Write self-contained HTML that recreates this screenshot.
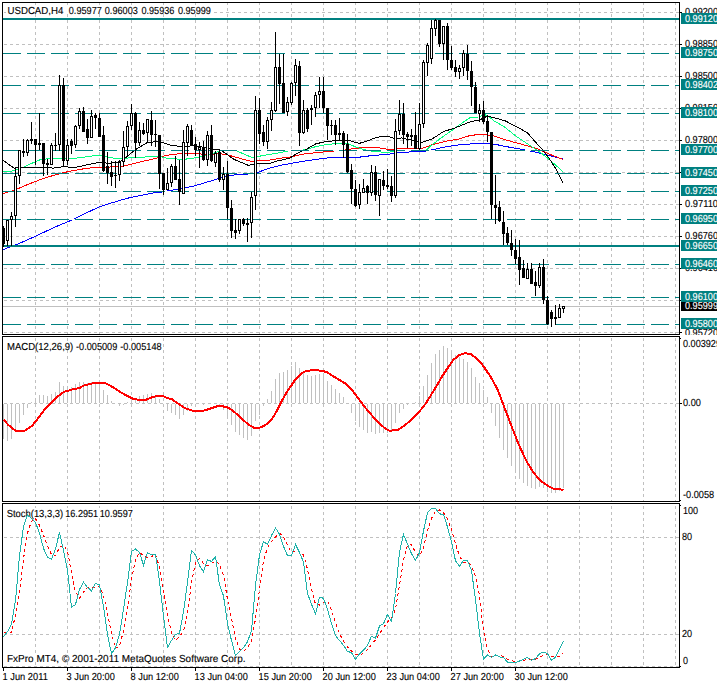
<!DOCTYPE html><html><head><meta charset="utf-8"><style>html,body{margin:0;padding:0;background:#fff}svg{display:block}</style></head><body><svg width="717" height="684" viewBox="0 0 717 684" shape-rendering="crispEdges" text-rendering="geometricPrecision" font-family="'Liberation Sans', sans-serif" font-size="10.2px">
<rect x="0" y="0" width="717" height="684" fill="#fff"/>
<line x1="35.5" y1="3" x2="35.5" y2="334" stroke="#c0c0c0" stroke-dasharray="3 3" stroke-dashoffset="1"/>
<line x1="67.5" y1="3" x2="67.5" y2="334" stroke="#c0c0c0" stroke-dasharray="3 3" stroke-dashoffset="1"/>
<line x1="99.5" y1="3" x2="99.5" y2="334" stroke="#c0c0c0" stroke-dasharray="3 3" stroke-dashoffset="1"/>
<line x1="131.5" y1="3" x2="131.5" y2="334" stroke="#c0c0c0" stroke-dasharray="3 3" stroke-dashoffset="1"/>
<line x1="163.5" y1="3" x2="163.5" y2="334" stroke="#c0c0c0" stroke-dasharray="3 3" stroke-dashoffset="1"/>
<line x1="195.5" y1="3" x2="195.5" y2="334" stroke="#c0c0c0" stroke-dasharray="3 3" stroke-dashoffset="1"/>
<line x1="227.5" y1="3" x2="227.5" y2="334" stroke="#c0c0c0" stroke-dasharray="3 3" stroke-dashoffset="1"/>
<line x1="259.5" y1="3" x2="259.5" y2="334" stroke="#c0c0c0" stroke-dasharray="3 3" stroke-dashoffset="1"/>
<line x1="291.5" y1="3" x2="291.5" y2="334" stroke="#c0c0c0" stroke-dasharray="3 3" stroke-dashoffset="1"/>
<line x1="323.5" y1="3" x2="323.5" y2="334" stroke="#c0c0c0" stroke-dasharray="3 3" stroke-dashoffset="1"/>
<line x1="355.5" y1="3" x2="355.5" y2="334" stroke="#c0c0c0" stroke-dasharray="3 3" stroke-dashoffset="1"/>
<line x1="387.5" y1="3" x2="387.5" y2="334" stroke="#c0c0c0" stroke-dasharray="3 3" stroke-dashoffset="1"/>
<line x1="419.5" y1="3" x2="419.5" y2="334" stroke="#c0c0c0" stroke-dasharray="3 3" stroke-dashoffset="1"/>
<line x1="451.5" y1="3" x2="451.5" y2="334" stroke="#c0c0c0" stroke-dasharray="3 3" stroke-dashoffset="1"/>
<line x1="483.5" y1="3" x2="483.5" y2="334" stroke="#c0c0c0" stroke-dasharray="3 3" stroke-dashoffset="1"/>
<line x1="515.5" y1="3" x2="515.5" y2="334" stroke="#c0c0c0" stroke-dasharray="3 3" stroke-dashoffset="1"/>
<line x1="547.5" y1="3" x2="547.5" y2="334" stroke="#c0c0c0" stroke-dasharray="3 3" stroke-dashoffset="1"/>
<line x1="579.5" y1="3" x2="579.5" y2="334" stroke="#c0c0c0" stroke-dasharray="3 3" stroke-dashoffset="1"/>
<line x1="611.5" y1="3" x2="611.5" y2="334" stroke="#c0c0c0" stroke-dasharray="3 3" stroke-dashoffset="1"/>
<line x1="643.5" y1="3" x2="643.5" y2="334" stroke="#c0c0c0" stroke-dasharray="3 3" stroke-dashoffset="1"/>
<line x1="675.5" y1="3" x2="675.5" y2="334" stroke="#c0c0c0" stroke-dasharray="3 3" stroke-dashoffset="1"/>
<line x1="35.5" y1="337" x2="35.5" y2="501" stroke="#c0c0c0" stroke-dasharray="3 3" stroke-dashoffset="5"/>
<line x1="67.5" y1="337" x2="67.5" y2="501" stroke="#c0c0c0" stroke-dasharray="3 3" stroke-dashoffset="5"/>
<line x1="99.5" y1="337" x2="99.5" y2="501" stroke="#c0c0c0" stroke-dasharray="3 3" stroke-dashoffset="5"/>
<line x1="131.5" y1="337" x2="131.5" y2="501" stroke="#c0c0c0" stroke-dasharray="3 3" stroke-dashoffset="5"/>
<line x1="163.5" y1="337" x2="163.5" y2="501" stroke="#c0c0c0" stroke-dasharray="3 3" stroke-dashoffset="5"/>
<line x1="195.5" y1="337" x2="195.5" y2="501" stroke="#c0c0c0" stroke-dasharray="3 3" stroke-dashoffset="5"/>
<line x1="227.5" y1="337" x2="227.5" y2="501" stroke="#c0c0c0" stroke-dasharray="3 3" stroke-dashoffset="5"/>
<line x1="259.5" y1="337" x2="259.5" y2="501" stroke="#c0c0c0" stroke-dasharray="3 3" stroke-dashoffset="5"/>
<line x1="291.5" y1="337" x2="291.5" y2="501" stroke="#c0c0c0" stroke-dasharray="3 3" stroke-dashoffset="5"/>
<line x1="323.5" y1="337" x2="323.5" y2="501" stroke="#c0c0c0" stroke-dasharray="3 3" stroke-dashoffset="5"/>
<line x1="355.5" y1="337" x2="355.5" y2="501" stroke="#c0c0c0" stroke-dasharray="3 3" stroke-dashoffset="5"/>
<line x1="387.5" y1="337" x2="387.5" y2="501" stroke="#c0c0c0" stroke-dasharray="3 3" stroke-dashoffset="5"/>
<line x1="419.5" y1="337" x2="419.5" y2="501" stroke="#c0c0c0" stroke-dasharray="3 3" stroke-dashoffset="5"/>
<line x1="451.5" y1="337" x2="451.5" y2="501" stroke="#c0c0c0" stroke-dasharray="3 3" stroke-dashoffset="5"/>
<line x1="483.5" y1="337" x2="483.5" y2="501" stroke="#c0c0c0" stroke-dasharray="3 3" stroke-dashoffset="5"/>
<line x1="515.5" y1="337" x2="515.5" y2="501" stroke="#c0c0c0" stroke-dasharray="3 3" stroke-dashoffset="5"/>
<line x1="547.5" y1="337" x2="547.5" y2="501" stroke="#c0c0c0" stroke-dasharray="3 3" stroke-dashoffset="5"/>
<line x1="579.5" y1="337" x2="579.5" y2="501" stroke="#c0c0c0" stroke-dasharray="3 3" stroke-dashoffset="5"/>
<line x1="611.5" y1="337" x2="611.5" y2="501" stroke="#c0c0c0" stroke-dasharray="3 3" stroke-dashoffset="5"/>
<line x1="643.5" y1="337" x2="643.5" y2="501" stroke="#c0c0c0" stroke-dasharray="3 3" stroke-dashoffset="5"/>
<line x1="675.5" y1="337" x2="675.5" y2="501" stroke="#c0c0c0" stroke-dasharray="3 3" stroke-dashoffset="5"/>
<line x1="35.5" y1="504" x2="35.5" y2="667" stroke="#c0c0c0" stroke-dasharray="3 3" stroke-dashoffset="4"/>
<line x1="67.5" y1="504" x2="67.5" y2="667" stroke="#c0c0c0" stroke-dasharray="3 3" stroke-dashoffset="4"/>
<line x1="99.5" y1="504" x2="99.5" y2="667" stroke="#c0c0c0" stroke-dasharray="3 3" stroke-dashoffset="4"/>
<line x1="131.5" y1="504" x2="131.5" y2="667" stroke="#c0c0c0" stroke-dasharray="3 3" stroke-dashoffset="4"/>
<line x1="163.5" y1="504" x2="163.5" y2="667" stroke="#c0c0c0" stroke-dasharray="3 3" stroke-dashoffset="4"/>
<line x1="195.5" y1="504" x2="195.5" y2="667" stroke="#c0c0c0" stroke-dasharray="3 3" stroke-dashoffset="4"/>
<line x1="227.5" y1="504" x2="227.5" y2="667" stroke="#c0c0c0" stroke-dasharray="3 3" stroke-dashoffset="4"/>
<line x1="259.5" y1="504" x2="259.5" y2="667" stroke="#c0c0c0" stroke-dasharray="3 3" stroke-dashoffset="4"/>
<line x1="291.5" y1="504" x2="291.5" y2="667" stroke="#c0c0c0" stroke-dasharray="3 3" stroke-dashoffset="4"/>
<line x1="323.5" y1="504" x2="323.5" y2="667" stroke="#c0c0c0" stroke-dasharray="3 3" stroke-dashoffset="4"/>
<line x1="355.5" y1="504" x2="355.5" y2="667" stroke="#c0c0c0" stroke-dasharray="3 3" stroke-dashoffset="4"/>
<line x1="387.5" y1="504" x2="387.5" y2="667" stroke="#c0c0c0" stroke-dasharray="3 3" stroke-dashoffset="4"/>
<line x1="419.5" y1="504" x2="419.5" y2="667" stroke="#c0c0c0" stroke-dasharray="3 3" stroke-dashoffset="4"/>
<line x1="451.5" y1="504" x2="451.5" y2="667" stroke="#c0c0c0" stroke-dasharray="3 3" stroke-dashoffset="4"/>
<line x1="483.5" y1="504" x2="483.5" y2="667" stroke="#c0c0c0" stroke-dasharray="3 3" stroke-dashoffset="4"/>
<line x1="515.5" y1="504" x2="515.5" y2="667" stroke="#c0c0c0" stroke-dasharray="3 3" stroke-dashoffset="4"/>
<line x1="547.5" y1="504" x2="547.5" y2="667" stroke="#c0c0c0" stroke-dasharray="3 3" stroke-dashoffset="4"/>
<line x1="579.5" y1="504" x2="579.5" y2="667" stroke="#c0c0c0" stroke-dasharray="3 3" stroke-dashoffset="4"/>
<line x1="611.5" y1="504" x2="611.5" y2="667" stroke="#c0c0c0" stroke-dasharray="3 3" stroke-dashoffset="4"/>
<line x1="643.5" y1="504" x2="643.5" y2="667" stroke="#c0c0c0" stroke-dasharray="3 3" stroke-dashoffset="4"/>
<line x1="675.5" y1="504" x2="675.5" y2="667" stroke="#c0c0c0" stroke-dasharray="3 3" stroke-dashoffset="4"/>
<line x1="3" y1="12.5" x2="679" y2="12.5" stroke="#c0c0c0" stroke-dasharray="3 3" stroke-dashoffset="5"/>
<line x1="3" y1="44.5" x2="679" y2="44.5" stroke="#c0c0c0" stroke-dasharray="3 3" stroke-dashoffset="5"/>
<line x1="3" y1="76.5" x2="679" y2="76.5" stroke="#c0c0c0" stroke-dasharray="3 3" stroke-dashoffset="5"/>
<line x1="3" y1="108.5" x2="679" y2="108.5" stroke="#c0c0c0" stroke-dasharray="3 3" stroke-dashoffset="5"/>
<line x1="3" y1="140.5" x2="679" y2="140.5" stroke="#c0c0c0" stroke-dasharray="3 3" stroke-dashoffset="5"/>
<line x1="3" y1="172.5" x2="679" y2="172.5" stroke="#c0c0c0" stroke-dasharray="3 3" stroke-dashoffset="5"/>
<line x1="3" y1="204.5" x2="679" y2="204.5" stroke="#c0c0c0" stroke-dasharray="3 3" stroke-dashoffset="5"/>
<line x1="3" y1="236.5" x2="679" y2="236.5" stroke="#c0c0c0" stroke-dasharray="3 3" stroke-dashoffset="5"/>
<line x1="3" y1="268.5" x2="679" y2="268.5" stroke="#c0c0c0" stroke-dasharray="3 3" stroke-dashoffset="5"/>
<line x1="3" y1="300.5" x2="679" y2="300.5" stroke="#c0c0c0" stroke-dasharray="3 3" stroke-dashoffset="5"/>
<line x1="3" y1="332.5" x2="679" y2="332.5" stroke="#c0c0c0" stroke-dasharray="3 3" stroke-dashoffset="5"/>
<line x1="3" y1="403.5" x2="679" y2="403.5" stroke="#c0c0c0" stroke-dasharray="3 3" stroke-dashoffset="5"/>
<line x1="3" y1="537.5" x2="679" y2="537.5" stroke="#c0c0c0" stroke-dasharray="3 3" stroke-dashoffset="5"/>
<line x1="3" y1="634.5" x2="679" y2="634.5" stroke="#c0c0c0" stroke-dasharray="3 3" stroke-dashoffset="5"/>
<line x1="3" y1="666.5" x2="679" y2="666.5" stroke="#c0c0c0" stroke-dasharray="3 3" stroke-dashoffset="5"/>
<rect x="6" y="5" width="207" height="9" fill="#fff"/>
<text x="7.5" y="14" fill="#000" stroke="#000" stroke-width="0.12" textLength="55.8" lengthAdjust="spacingAndGlyphs">USDCAD,H4</text>
<text x="68.8" y="14" fill="#000" stroke="#000" stroke-width="0.12" textLength="33.0" lengthAdjust="spacingAndGlyphs">0.95977</text>
<text x="104.8" y="14" fill="#000" stroke="#000" stroke-width="0.12" textLength="33.0" lengthAdjust="spacingAndGlyphs">0.96003</text>
<text x="141.4" y="14" fill="#000" stroke="#000" stroke-width="0.12" textLength="33.0" lengthAdjust="spacingAndGlyphs">0.95936</text>
<text x="177.9" y="14" fill="#000" stroke="#000" stroke-width="0.12" textLength="33.0" lengthAdjust="spacingAndGlyphs">0.95999</text>
<rect x="6" y="341" width="157" height="9" fill="#fff"/>
<text x="7" y="350" fill="#000" stroke="#000" stroke-width="0.12" textLength="66.3" lengthAdjust="spacingAndGlyphs">MACD(12,26,9)</text>
<text x="76" y="350" fill="#000" stroke="#000" stroke-width="0.12" textLength="41.3" lengthAdjust="spacingAndGlyphs">-0.005009</text>
<text x="120.3" y="350" fill="#000" stroke="#000" stroke-width="0.12" textLength="41.3" lengthAdjust="spacingAndGlyphs">-0.005148</text>
<rect x="6" y="508" width="130" height="9" fill="#fff"/>
<text x="6.7" y="517" fill="#000" stroke="#000" stroke-width="0.12" textLength="56.5" lengthAdjust="spacingAndGlyphs">Stoch(13,3,3)</text>
<text x="65.2" y="517" fill="#000" stroke="#000" stroke-width="0.12" textLength="33.0" lengthAdjust="spacingAndGlyphs">16.2951</text>
<text x="99.8" y="517" fill="#000" stroke="#000" stroke-width="0.12" textLength="33.0" lengthAdjust="spacingAndGlyphs">10.9597</text>
<rect x="6" y="654" width="240" height="8" fill="#fff"/>
<text x="7" y="662" fill="#000" stroke="#000" stroke-width="0.12" textLength="238.5" lengthAdjust="spacingAndGlyphs">FxPro MT4, © 2001-2011 MetaQuotes Software Corp.</text>
<line x1="3" y1="306.5" x2="679" y2="306.5" stroke="#c0c0c0"/>
<polyline points="2.9,249.8 8.4,247.5 16.7,244.6 34.9,236.5 55.8,226.7 69.7,220.9 83.7,214.2 97.6,207.6 110.0,203.4 123.9,199.2 130.9,197.4 151.8,193.2 161.6,192.0 169.9,190.4 179.7,189.0 194.0,186.0 206.0,182.4 219.9,178.2 233.8,175.0 247.8,174.1 258.9,172.0 268.7,168.3 282.7,164.9 290.0,163.6 302.0,161.5 315.9,159.4 329.8,157.7 343.8,157.0 360.5,157.0 371.7,155.6 386.0,154.5 398.0,152.9 411.9,151.8 425.8,151.0 434.2,149.4 446.8,146.6 462.1,144.5 473.3,143.8 482.0,143.3 494.0,144.1 507.9,146.9 521.8,149.4 535.8,152.2 549.7,155.7 563.0,158.9" fill="none" stroke="#0000ff" stroke-width="1"/>
<polyline points="2.8,193.5 14.0,190.4 27.9,184.4 41.8,179.0 55.8,174.7 69.7,171.2 83.7,168.8 97.6,167.0 110.0,167.0 123.9,166.0 137.8,162.5 151.8,159.3 165.7,155.6 174.1,154.2 186.7,153.5 193.6,153.5 206.0,154.4 219.9,153.7 226.9,154.7 240.8,158.6 252.0,161.4 257.6,160.7 268.7,160.3 282.7,157.9 292.2,156.8 302.0,154.3 315.9,152.6 336.8,150.8 346.6,149.8 355.0,148.4 366.1,147.3 377.3,147.6 388.0,149.4 391.0,149.4 404.9,148.0 416.1,148.7 423.1,148.0 432.8,144.5 446.8,141.0 459.3,138.9 470.5,135.4 481.6,134.3 494.0,135.9 507.9,140.5 521.8,144.3 535.8,148.2 549.7,154.3 563.0,159.4" fill="none" stroke="#ff0000" stroke-width="1"/>
<polyline points="2.8,171.6 14.0,170.9 23.7,167.0 34.9,161.9 41.8,159.1 62.8,158.6 76.7,158.1 97.6,155.2 104.4,155.6 108.6,157.9 123.9,158.3 137.8,157.4 158.8,156.2 168.5,158.6 182.5,159.3 192.0,158.6 197.6,157.2 206.0,155.8 219.9,150.9 236.6,150.9 252.0,157.5 261.7,155.8 275.7,153.4 287.0,151.3 291.0,150.5 301.0,150.5 306.1,149.5 315.9,146.6 327.0,144.5 341.0,143.1 348.0,143.8 355.0,146.6 363.3,149.4 371.7,151.2 388.0,152.6 392.4,151.5 402.1,150.4 411.9,150.5 425.8,150.5 430.0,146.5 439.8,138.9 449.6,132.0 459.3,125.0 470.5,117.3 478.8,117.0 484.2,114.5 487.7,115.9 494.0,120.8 505.1,127.4 514.9,135.4 527.4,143.8 535.8,149.4 542.8,154.3 549.7,159.9 556.7,166.1 563.0,171.7" fill="none" stroke="#00ff7f" stroke-width="1"/>
<polyline points="2.8,160.0 8.0,164.0 14.0,168.1 23.7,167.4 41.8,167.4 53.0,168.1 62.8,166.7 75.3,167.4 97.6,162.6 110.0,163.2 119.7,161.8 123.9,159.0 135.0,150.0 147.6,142.3 160.2,141.6 171.3,145.5 182.5,146.5 193.6,145.8 205.0,147.5 213.0,149.1 218.5,149.1 224.0,152.3 233.8,159.3 247.8,165.1 253.4,164.9 257.6,163.5 268.7,163.7 275.7,161.4 290.0,158.2 296.4,153.6 306.1,149.4 315.9,143.8 327.0,141.4 341.0,140.3 350.8,141.0 359.1,143.4 366.1,141.4 374.5,138.2 382.8,136.1 389.6,136.8 393.8,138.2 401.9,138.0 411.9,140.3 421.7,142.4 431.4,139.4 444.0,131.3 453.7,128.5 462.1,125.0 470.5,121.8 478.8,120.1 484.0,118.0 487.0,115.9 494.0,117.7 505.1,120.8 517.7,127.4 527.4,132.7 535.8,142.4 542.8,150.1 549.7,159.2 556.7,170.3 563.0,182.6" fill="none" stroke="#000" stroke-width="1"/>
<line x1="3" y1="53.5" x2="679" y2="53.5" stroke="#fff"/>
<line x1="3" y1="53.5" x2="679" y2="53.5" stroke="#008080" stroke-dasharray="18 6" stroke-dashoffset="0"/>
<line x1="3" y1="85.5" x2="679" y2="85.5" stroke="#fff"/>
<line x1="3" y1="85.5" x2="679" y2="85.5" stroke="#008080" stroke-dasharray="18 6" stroke-dashoffset="0"/>
<line x1="3" y1="113.5" x2="679" y2="113.5" stroke="#fff"/>
<line x1="3" y1="113.5" x2="679" y2="113.5" stroke="#008080" stroke-dasharray="18 6" stroke-dashoffset="0"/>
<line x1="3" y1="150.5" x2="679" y2="150.5" stroke="#fff"/>
<line x1="3" y1="150.5" x2="679" y2="150.5" stroke="#008080" stroke-dasharray="18 6" stroke-dashoffset="0"/>
<line x1="3" y1="173.5" x2="679" y2="173.5" stroke="#fff"/>
<line x1="3" y1="173.5" x2="679" y2="173.5" stroke="#008080" stroke-dasharray="18 6" stroke-dashoffset="0"/>
<line x1="3" y1="191.5" x2="679" y2="191.5" stroke="#fff"/>
<line x1="3" y1="191.5" x2="679" y2="191.5" stroke="#008080" stroke-dasharray="18 6" stroke-dashoffset="0"/>
<line x1="3" y1="219.5" x2="679" y2="219.5" stroke="#fff"/>
<line x1="3" y1="219.5" x2="679" y2="219.5" stroke="#008080" stroke-dasharray="18 6" stroke-dashoffset="0"/>
<line x1="3" y1="264.5" x2="679" y2="264.5" stroke="#fff"/>
<line x1="3" y1="264.5" x2="679" y2="264.5" stroke="#008080" stroke-dasharray="18 6" stroke-dashoffset="0"/>
<line x1="3" y1="297.5" x2="679" y2="297.5" stroke="#fff"/>
<line x1="3" y1="297.5" x2="679" y2="297.5" stroke="#008080" stroke-dasharray="18 6" stroke-dashoffset="0"/>
<line x1="3" y1="324.5" x2="679" y2="324.5" stroke="#fff"/>
<line x1="3" y1="324.5" x2="679" y2="324.5" stroke="#008080" stroke-dasharray="18 6" stroke-dashoffset="0"/>
<rect x="3" y="18" width="676" height="2" fill="#008080"/>
<rect x="3" y="245" width="676" height="2" fill="#008080"/>
<rect x="3" y="226" width="1" height="21" fill="#000"/>
<rect x="2" y="228" width="3" height="16" fill="#000"/>
<rect x="7" y="220" width="1" height="26" fill="#000"/>
<rect x="6" y="220" width="3" height="21" fill="#000"/>
<rect x="7" y="221" width="1" height="19" fill="#fff"/>
<rect x="11" y="212" width="1" height="34" fill="#000"/>
<rect x="10" y="216" width="3" height="4" fill="#000"/>
<rect x="11" y="217" width="1" height="2" fill="#fff"/>
<rect x="15" y="168" width="1" height="59" fill="#000"/>
<rect x="14" y="176" width="3" height="40" fill="#000"/>
<rect x="15" y="177" width="1" height="38" fill="#fff"/>
<rect x="19" y="150" width="1" height="34" fill="#000"/>
<rect x="18" y="150" width="3" height="26" fill="#000"/>
<rect x="19" y="151" width="1" height="24" fill="#fff"/>
<rect x="23" y="139" width="1" height="18" fill="#000"/>
<rect x="22" y="151" width="3" height="2" fill="#000"/>
<rect x="27" y="139" width="1" height="17" fill="#000"/>
<rect x="26" y="140" width="3" height="13" fill="#000"/>
<rect x="27" y="141" width="1" height="11" fill="#fff"/>
<rect x="31" y="122" width="1" height="22" fill="#000"/>
<rect x="30" y="139" width="3" height="2" fill="#000"/>
<rect x="35" y="139" width="1" height="26" fill="#000"/>
<rect x="34" y="139" width="3" height="6" fill="#000"/>
<rect x="39" y="113" width="1" height="37" fill="#000"/>
<rect x="38" y="143" width="3" height="2" fill="#000"/>
<rect x="43" y="143" width="1" height="33" fill="#000"/>
<rect x="42" y="143" width="3" height="21" fill="#000"/>
<rect x="47" y="159" width="1" height="16" fill="#000"/>
<rect x="46" y="163" width="3" height="2" fill="#000"/>
<rect x="51" y="143" width="1" height="22" fill="#000"/>
<rect x="50" y="145" width="3" height="20" fill="#000"/>
<rect x="51" y="146" width="1" height="18" fill="#fff"/>
<rect x="55" y="133" width="1" height="18" fill="#000"/>
<rect x="54" y="145" width="3" height="1" fill="#000"/>
<rect x="59" y="75" width="1" height="76" fill="#000"/>
<rect x="58" y="85" width="3" height="60" fill="#000"/>
<rect x="59" y="86" width="1" height="58" fill="#fff"/>
<rect x="63" y="78" width="1" height="89" fill="#000"/>
<rect x="62" y="85" width="3" height="76" fill="#000"/>
<rect x="67" y="139" width="1" height="26" fill="#000"/>
<rect x="66" y="145" width="3" height="16" fill="#000"/>
<rect x="67" y="146" width="1" height="14" fill="#fff"/>
<rect x="71" y="139" width="1" height="15" fill="#000"/>
<rect x="70" y="141" width="3" height="5" fill="#000"/>
<rect x="75" y="125" width="1" height="23" fill="#000"/>
<rect x="74" y="126" width="3" height="19" fill="#000"/>
<rect x="75" y="127" width="1" height="17" fill="#fff"/>
<rect x="79" y="108" width="1" height="21" fill="#000"/>
<rect x="78" y="111" width="3" height="15" fill="#000"/>
<rect x="79" y="112" width="1" height="13" fill="#fff"/>
<rect x="83" y="107" width="1" height="25" fill="#000"/>
<rect x="82" y="111" width="3" height="21" fill="#000"/>
<rect x="87" y="119" width="1" height="25" fill="#000"/>
<rect x="86" y="129" width="3" height="9" fill="#000"/>
<rect x="91" y="110" width="1" height="28" fill="#000"/>
<rect x="90" y="116" width="3" height="22" fill="#000"/>
<rect x="91" y="117" width="1" height="20" fill="#fff"/>
<rect x="95" y="113" width="1" height="16" fill="#000"/>
<rect x="94" y="115" width="3" height="3" fill="#000"/>
<rect x="99" y="113" width="1" height="24" fill="#000"/>
<rect x="98" y="118" width="3" height="19" fill="#000"/>
<rect x="103" y="126" width="1" height="46" fill="#000"/>
<rect x="102" y="135" width="3" height="36" fill="#000"/>
<rect x="107" y="152" width="1" height="32" fill="#000"/>
<rect x="106" y="166" width="3" height="7" fill="#000"/>
<rect x="111" y="161" width="1" height="25" fill="#000"/>
<rect x="110" y="172" width="3" height="5" fill="#000"/>
<rect x="115" y="161" width="1" height="27" fill="#000"/>
<rect x="114" y="175" width="3" height="1" fill="#000"/>
<rect x="119" y="160" width="1" height="21" fill="#000"/>
<rect x="118" y="162" width="3" height="13" fill="#000"/>
<rect x="119" y="163" width="1" height="11" fill="#fff"/>
<rect x="123" y="131" width="1" height="36" fill="#000"/>
<rect x="122" y="147" width="3" height="15" fill="#000"/>
<rect x="123" y="148" width="1" height="13" fill="#fff"/>
<rect x="127" y="121" width="1" height="36" fill="#000"/>
<rect x="126" y="126" width="3" height="21" fill="#000"/>
<rect x="127" y="127" width="1" height="19" fill="#fff"/>
<rect x="131" y="104" width="1" height="26" fill="#000"/>
<rect x="130" y="113" width="3" height="13" fill="#000"/>
<rect x="131" y="114" width="1" height="11" fill="#fff"/>
<rect x="135" y="112" width="1" height="46" fill="#000"/>
<rect x="134" y="113" width="3" height="30" fill="#000"/>
<rect x="139" y="122" width="1" height="24" fill="#000"/>
<rect x="138" y="130" width="3" height="13" fill="#000"/>
<rect x="139" y="131" width="1" height="11" fill="#fff"/>
<rect x="143" y="123" width="1" height="12" fill="#000"/>
<rect x="142" y="130" width="3" height="4" fill="#000"/>
<rect x="147" y="119" width="1" height="23" fill="#000"/>
<rect x="146" y="119" width="3" height="14" fill="#000"/>
<rect x="147" y="120" width="1" height="12" fill="#fff"/>
<rect x="151" y="111" width="1" height="35" fill="#000"/>
<rect x="150" y="120" width="3" height="15" fill="#000"/>
<rect x="155" y="120" width="1" height="27" fill="#000"/>
<rect x="154" y="134" width="3" height="1" fill="#000"/>
<rect x="159" y="135" width="1" height="54" fill="#000"/>
<rect x="158" y="135" width="3" height="39" fill="#000"/>
<rect x="163" y="173" width="1" height="22" fill="#000"/>
<rect x="162" y="173" width="3" height="17" fill="#000"/>
<rect x="167" y="168" width="1" height="22" fill="#000"/>
<rect x="166" y="183" width="3" height="7" fill="#000"/>
<rect x="167" y="184" width="1" height="5" fill="#fff"/>
<rect x="171" y="164" width="1" height="23" fill="#000"/>
<rect x="170" y="166" width="3" height="17" fill="#000"/>
<rect x="171" y="167" width="1" height="15" fill="#fff"/>
<rect x="175" y="156" width="1" height="24" fill="#000"/>
<rect x="174" y="166" width="3" height="14" fill="#000"/>
<rect x="179" y="160" width="1" height="45" fill="#000"/>
<rect x="178" y="179" width="3" height="13" fill="#000"/>
<rect x="183" y="130" width="1" height="64" fill="#000"/>
<rect x="182" y="142" width="3" height="52" fill="#000"/>
<rect x="183" y="143" width="1" height="50" fill="#fff"/>
<rect x="187" y="124" width="1" height="32" fill="#000"/>
<rect x="186" y="126" width="3" height="17" fill="#000"/>
<rect x="187" y="127" width="1" height="15" fill="#fff"/>
<rect x="191" y="125" width="1" height="21" fill="#000"/>
<rect x="190" y="130" width="3" height="16" fill="#000"/>
<rect x="195" y="137" width="1" height="19" fill="#000"/>
<rect x="194" y="144" width="3" height="6" fill="#000"/>
<rect x="199" y="142" width="1" height="26" fill="#000"/>
<rect x="198" y="147" width="3" height="3" fill="#000"/>
<rect x="199" y="148" width="1" height="1" fill="#fff"/>
<rect x="203" y="141" width="1" height="20" fill="#000"/>
<rect x="202" y="147" width="3" height="13" fill="#000"/>
<rect x="207" y="131" width="1" height="35" fill="#000"/>
<rect x="206" y="135" width="3" height="25" fill="#000"/>
<rect x="207" y="136" width="1" height="23" fill="#fff"/>
<rect x="211" y="125" width="1" height="37" fill="#000"/>
<rect x="210" y="135" width="3" height="26" fill="#000"/>
<rect x="215" y="151" width="1" height="16" fill="#000"/>
<rect x="214" y="153" width="3" height="10" fill="#000"/>
<rect x="215" y="154" width="1" height="8" fill="#fff"/>
<rect x="219" y="149" width="1" height="33" fill="#000"/>
<rect x="218" y="152" width="3" height="28" fill="#000"/>
<rect x="223" y="167" width="1" height="23" fill="#000"/>
<rect x="222" y="174" width="3" height="6" fill="#000"/>
<rect x="223" y="175" width="1" height="4" fill="#fff"/>
<rect x="227" y="161" width="1" height="58" fill="#000"/>
<rect x="226" y="174" width="3" height="34" fill="#000"/>
<rect x="231" y="200" width="1" height="38" fill="#000"/>
<rect x="230" y="208" width="3" height="23" fill="#000"/>
<rect x="235" y="219" width="1" height="20" fill="#000"/>
<rect x="234" y="230" width="3" height="3" fill="#000"/>
<rect x="239" y="219" width="1" height="15" fill="#000"/>
<rect x="238" y="219" width="3" height="12" fill="#000"/>
<rect x="239" y="220" width="1" height="10" fill="#fff"/>
<rect x="243" y="218" width="1" height="8" fill="#000"/>
<rect x="242" y="219" width="3" height="5" fill="#000"/>
<rect x="247" y="218" width="1" height="24" fill="#000"/>
<rect x="246" y="223" width="3" height="2" fill="#000"/>
<rect x="251" y="192" width="1" height="46" fill="#000"/>
<rect x="250" y="197" width="3" height="26" fill="#000"/>
<rect x="251" y="198" width="1" height="24" fill="#fff"/>
<rect x="255" y="96" width="1" height="114" fill="#000"/>
<rect x="254" y="110" width="3" height="86" fill="#000"/>
<rect x="255" y="111" width="1" height="84" fill="#fff"/>
<rect x="259" y="98" width="1" height="46" fill="#000"/>
<rect x="258" y="110" width="3" height="24" fill="#000"/>
<rect x="263" y="125" width="1" height="21" fill="#000"/>
<rect x="262" y="132" width="3" height="10" fill="#000"/>
<rect x="267" y="117" width="1" height="32" fill="#000"/>
<rect x="266" y="120" width="3" height="22" fill="#000"/>
<rect x="267" y="121" width="1" height="20" fill="#fff"/>
<rect x="271" y="102" width="1" height="29" fill="#000"/>
<rect x="270" y="110" width="3" height="10" fill="#000"/>
<rect x="271" y="111" width="1" height="8" fill="#fff"/>
<rect x="275" y="32" width="1" height="80" fill="#000"/>
<rect x="274" y="67" width="3" height="44" fill="#000"/>
<rect x="275" y="68" width="1" height="42" fill="#fff"/>
<rect x="279" y="54" width="1" height="50" fill="#000"/>
<rect x="278" y="67" width="3" height="17" fill="#000"/>
<rect x="283" y="54" width="1" height="59" fill="#000"/>
<rect x="282" y="83" width="3" height="30" fill="#000"/>
<rect x="287" y="97" width="1" height="19" fill="#000"/>
<rect x="286" y="102" width="3" height="10" fill="#000"/>
<rect x="287" y="103" width="1" height="8" fill="#fff"/>
<rect x="291" y="82" width="1" height="23" fill="#000"/>
<rect x="290" y="83" width="3" height="20" fill="#000"/>
<rect x="291" y="84" width="1" height="18" fill="#fff"/>
<rect x="295" y="59" width="1" height="37" fill="#000"/>
<rect x="294" y="65" width="3" height="18" fill="#000"/>
<rect x="295" y="66" width="1" height="16" fill="#fff"/>
<rect x="299" y="61" width="1" height="85" fill="#000"/>
<rect x="298" y="66" width="3" height="67" fill="#000"/>
<rect x="303" y="100" width="1" height="34" fill="#000"/>
<rect x="302" y="110" width="3" height="23" fill="#000"/>
<rect x="303" y="111" width="1" height="21" fill="#fff"/>
<rect x="307" y="108" width="1" height="24" fill="#000"/>
<rect x="306" y="110" width="3" height="19" fill="#000"/>
<rect x="311" y="105" width="1" height="20" fill="#000"/>
<rect x="310" y="108" width="3" height="2" fill="#000"/>
<rect x="315" y="92" width="1" height="25" fill="#000"/>
<rect x="314" y="95" width="3" height="13" fill="#000"/>
<rect x="315" y="96" width="1" height="11" fill="#fff"/>
<rect x="319" y="77" width="1" height="31" fill="#000"/>
<rect x="318" y="91" width="3" height="4" fill="#000"/>
<rect x="319" y="92" width="1" height="2" fill="#fff"/>
<rect x="323" y="77" width="1" height="36" fill="#000"/>
<rect x="322" y="91" width="3" height="17" fill="#000"/>
<rect x="327" y="108" width="1" height="32" fill="#000"/>
<rect x="326" y="108" width="3" height="18" fill="#000"/>
<rect x="331" y="120" width="1" height="15" fill="#000"/>
<rect x="330" y="125" width="3" height="1" fill="#000"/>
<rect x="335" y="120" width="1" height="25" fill="#000"/>
<rect x="334" y="125" width="3" height="10" fill="#000"/>
<rect x="339" y="118" width="1" height="22" fill="#000"/>
<rect x="338" y="133" width="3" height="2" fill="#000"/>
<rect x="343" y="131" width="1" height="27" fill="#000"/>
<rect x="342" y="133" width="3" height="12" fill="#000"/>
<rect x="347" y="134" width="1" height="39" fill="#000"/>
<rect x="346" y="144" width="3" height="28" fill="#000"/>
<rect x="351" y="164" width="1" height="40" fill="#000"/>
<rect x="350" y="170" width="3" height="19" fill="#000"/>
<rect x="355" y="180" width="1" height="27" fill="#000"/>
<rect x="354" y="189" width="3" height="17" fill="#000"/>
<rect x="359" y="184" width="1" height="25" fill="#000"/>
<rect x="358" y="192" width="3" height="13" fill="#000"/>
<rect x="359" y="193" width="1" height="11" fill="#fff"/>
<rect x="363" y="179" width="1" height="14" fill="#000"/>
<rect x="362" y="188" width="3" height="5" fill="#000"/>
<rect x="363" y="189" width="1" height="3" fill="#fff"/>
<rect x="367" y="185" width="1" height="19" fill="#000"/>
<rect x="366" y="186" width="3" height="7" fill="#000"/>
<rect x="371" y="165" width="1" height="31" fill="#000"/>
<rect x="370" y="172" width="3" height="21" fill="#000"/>
<rect x="371" y="173" width="1" height="19" fill="#fff"/>
<rect x="375" y="166" width="1" height="35" fill="#000"/>
<rect x="374" y="172" width="3" height="23" fill="#000"/>
<rect x="379" y="179" width="1" height="37" fill="#000"/>
<rect x="378" y="179" width="3" height="17" fill="#000"/>
<rect x="379" y="180" width="1" height="15" fill="#fff"/>
<rect x="383" y="171" width="1" height="19" fill="#000"/>
<rect x="382" y="180" width="3" height="6" fill="#000"/>
<rect x="387" y="169" width="1" height="20" fill="#000"/>
<rect x="386" y="185" width="3" height="2" fill="#000"/>
<rect x="391" y="176" width="1" height="26" fill="#000"/>
<rect x="390" y="186" width="3" height="10" fill="#000"/>
<rect x="395" y="119" width="1" height="79" fill="#000"/>
<rect x="394" y="131" width="3" height="65" fill="#000"/>
<rect x="395" y="132" width="1" height="63" fill="#fff"/>
<rect x="399" y="100" width="1" height="35" fill="#000"/>
<rect x="398" y="114" width="3" height="17" fill="#000"/>
<rect x="399" y="115" width="1" height="15" fill="#fff"/>
<rect x="403" y="103" width="1" height="41" fill="#000"/>
<rect x="402" y="114" width="3" height="21" fill="#000"/>
<rect x="407" y="132" width="1" height="16" fill="#000"/>
<rect x="406" y="134" width="3" height="3" fill="#000"/>
<rect x="411" y="129" width="1" height="17" fill="#000"/>
<rect x="410" y="135" width="3" height="2" fill="#000"/>
<rect x="415" y="112" width="1" height="37" fill="#000"/>
<rect x="414" y="135" width="3" height="14" fill="#000"/>
<rect x="419" y="103" width="1" height="47" fill="#000"/>
<rect x="418" y="124" width="3" height="25" fill="#000"/>
<rect x="419" y="125" width="1" height="23" fill="#fff"/>
<rect x="423" y="60" width="1" height="68" fill="#000"/>
<rect x="422" y="62" width="3" height="62" fill="#000"/>
<rect x="423" y="63" width="1" height="60" fill="#fff"/>
<rect x="427" y="43" width="1" height="33" fill="#000"/>
<rect x="426" y="45" width="3" height="18" fill="#000"/>
<rect x="427" y="46" width="1" height="16" fill="#fff"/>
<rect x="431" y="20" width="1" height="44" fill="#000"/>
<rect x="430" y="28" width="3" height="31" fill="#000"/>
<rect x="431" y="29" width="1" height="29" fill="#fff"/>
<rect x="435" y="19" width="1" height="17" fill="#000"/>
<rect x="434" y="20" width="3" height="9" fill="#000"/>
<rect x="435" y="21" width="1" height="7" fill="#fff"/>
<rect x="439" y="20" width="1" height="27" fill="#000"/>
<rect x="438" y="20" width="3" height="24" fill="#000"/>
<rect x="443" y="26" width="1" height="34" fill="#000"/>
<rect x="442" y="26" width="3" height="18" fill="#000"/>
<rect x="443" y="27" width="1" height="16" fill="#fff"/>
<rect x="447" y="23" width="1" height="47" fill="#000"/>
<rect x="446" y="26" width="3" height="34" fill="#000"/>
<rect x="451" y="46" width="1" height="24" fill="#000"/>
<rect x="450" y="60" width="3" height="8" fill="#000"/>
<rect x="455" y="60" width="1" height="17" fill="#000"/>
<rect x="454" y="67" width="3" height="5" fill="#000"/>
<rect x="459" y="65" width="1" height="14" fill="#000"/>
<rect x="458" y="68" width="3" height="4" fill="#000"/>
<rect x="459" y="69" width="1" height="2" fill="#fff"/>
<rect x="463" y="50" width="1" height="26" fill="#000"/>
<rect x="462" y="53" width="3" height="15" fill="#000"/>
<rect x="463" y="54" width="1" height="13" fill="#fff"/>
<rect x="467" y="45" width="1" height="35" fill="#000"/>
<rect x="466" y="54" width="3" height="17" fill="#000"/>
<rect x="471" y="61" width="1" height="45" fill="#000"/>
<rect x="470" y="71" width="3" height="16" fill="#000"/>
<rect x="475" y="82" width="1" height="31" fill="#000"/>
<rect x="474" y="87" width="3" height="26" fill="#000"/>
<rect x="479" y="104" width="1" height="18" fill="#000"/>
<rect x="478" y="110" width="3" height="4" fill="#000"/>
<rect x="479" y="111" width="1" height="2" fill="#fff"/>
<rect x="483" y="101" width="1" height="23" fill="#000"/>
<rect x="482" y="110" width="3" height="12" fill="#000"/>
<rect x="487" y="115" width="1" height="27" fill="#000"/>
<rect x="486" y="121" width="3" height="11" fill="#000"/>
<rect x="491" y="132" width="1" height="87" fill="#000"/>
<rect x="490" y="132" width="3" height="73" fill="#000"/>
<rect x="495" y="175" width="1" height="49" fill="#000"/>
<rect x="494" y="205" width="3" height="3" fill="#000"/>
<rect x="499" y="201" width="1" height="21" fill="#000"/>
<rect x="498" y="207" width="3" height="14" fill="#000"/>
<rect x="503" y="211" width="1" height="34" fill="#000"/>
<rect x="502" y="222" width="3" height="12" fill="#000"/>
<rect x="507" y="227" width="1" height="18" fill="#000"/>
<rect x="506" y="233" width="3" height="10" fill="#000"/>
<rect x="511" y="230" width="1" height="26" fill="#000"/>
<rect x="510" y="243" width="3" height="7" fill="#000"/>
<rect x="515" y="239" width="1" height="25" fill="#000"/>
<rect x="514" y="250" width="3" height="9" fill="#000"/>
<rect x="519" y="240" width="1" height="45" fill="#000"/>
<rect x="518" y="257" width="3" height="13" fill="#000"/>
<rect x="523" y="260" width="1" height="18" fill="#000"/>
<rect x="522" y="268" width="3" height="10" fill="#000"/>
<rect x="527" y="263" width="1" height="16" fill="#000"/>
<rect x="526" y="269" width="3" height="10" fill="#000"/>
<rect x="527" y="270" width="1" height="8" fill="#fff"/>
<rect x="531" y="263" width="1" height="21" fill="#000"/>
<rect x="530" y="269" width="3" height="15" fill="#000"/>
<rect x="535" y="271" width="1" height="25" fill="#000"/>
<rect x="534" y="282" width="3" height="4" fill="#000"/>
<rect x="539" y="263" width="1" height="25" fill="#000"/>
<rect x="538" y="267" width="3" height="19" fill="#000"/>
<rect x="539" y="268" width="1" height="17" fill="#fff"/>
<rect x="543" y="259" width="1" height="45" fill="#000"/>
<rect x="542" y="267" width="3" height="33" fill="#000"/>
<rect x="547" y="296" width="1" height="29" fill="#000"/>
<rect x="546" y="300" width="3" height="24" fill="#000"/>
<rect x="551" y="310" width="1" height="17" fill="#000"/>
<rect x="550" y="312" width="3" height="7" fill="#000"/>
<rect x="555" y="305" width="1" height="20" fill="#000"/>
<rect x="554" y="317" width="3" height="2" fill="#000"/>
<rect x="559" y="304" width="1" height="14" fill="#000"/>
<rect x="558" y="308" width="3" height="10" fill="#000"/>
<rect x="559" y="309" width="1" height="8" fill="#fff"/>
<rect x="563" y="306" width="1" height="7" fill="#000"/>
<rect x="562" y="306" width="3" height="3" fill="#000"/>
<rect x="563" y="307" width="1" height="1" fill="#fff"/>
<rect x="3" y="404" width="1" height="35" fill="#c0c0c0"/>
<rect x="7" y="404" width="1" height="37" fill="#c0c0c0"/>
<rect x="11" y="404" width="1" height="35" fill="#c0c0c0"/>
<rect x="15" y="404" width="1" height="25" fill="#c0c0c0"/>
<rect x="19" y="404" width="1" height="19" fill="#c0c0c0"/>
<rect x="23" y="404" width="1" height="11" fill="#c0c0c0"/>
<rect x="27" y="404" width="1" height="4" fill="#c0c0c0"/>
<rect x="31" y="402" width="1" height="1" fill="#c0c0c0"/>
<rect x="35" y="398" width="1" height="5" fill="#c0c0c0"/>
<rect x="39" y="395" width="1" height="8" fill="#c0c0c0"/>
<rect x="43" y="395" width="1" height="8" fill="#c0c0c0"/>
<rect x="47" y="396" width="1" height="7" fill="#c0c0c0"/>
<rect x="51" y="394" width="1" height="9" fill="#c0c0c0"/>
<rect x="55" y="392" width="1" height="11" fill="#c0c0c0"/>
<rect x="59" y="382" width="1" height="21" fill="#c0c0c0"/>
<rect x="63" y="386" width="1" height="17" fill="#c0c0c0"/>
<rect x="67" y="387" width="1" height="16" fill="#c0c0c0"/>
<rect x="71" y="387" width="1" height="16" fill="#c0c0c0"/>
<rect x="75" y="384" width="1" height="19" fill="#c0c0c0"/>
<rect x="79" y="382" width="1" height="21" fill="#c0c0c0"/>
<rect x="83" y="382" width="1" height="21" fill="#c0c0c0"/>
<rect x="87" y="383" width="1" height="20" fill="#c0c0c0"/>
<rect x="91" y="382" width="1" height="21" fill="#c0c0c0"/>
<rect x="95" y="382" width="1" height="21" fill="#c0c0c0"/>
<rect x="99" y="383" width="1" height="20" fill="#c0c0c0"/>
<rect x="103" y="390" width="1" height="13" fill="#c0c0c0"/>
<rect x="107" y="395" width="1" height="8" fill="#c0c0c0"/>
<rect x="111" y="401" width="1" height="2" fill="#c0c0c0"/>
<rect x="119" y="404" width="1" height="2" fill="#c0c0c0"/>
<rect x="123" y="404" width="1" height="1" fill="#c0c0c0"/>
<rect x="127" y="402" width="1" height="1" fill="#c0c0c0"/>
<rect x="131" y="399" width="1" height="4" fill="#c0c0c0"/>
<rect x="135" y="398" width="1" height="5" fill="#c0c0c0"/>
<rect x="139" y="396" width="1" height="7" fill="#c0c0c0"/>
<rect x="143" y="395" width="1" height="8" fill="#c0c0c0"/>
<rect x="147" y="394" width="1" height="9" fill="#c0c0c0"/>
<rect x="151" y="393" width="1" height="10" fill="#c0c0c0"/>
<rect x="155" y="395" width="1" height="8" fill="#c0c0c0"/>
<rect x="159" y="399" width="1" height="4" fill="#c0c0c0"/>
<rect x="163" y="404" width="1" height="3" fill="#c0c0c0"/>
<rect x="167" y="404" width="1" height="7" fill="#c0c0c0"/>
<rect x="171" y="404" width="1" height="9" fill="#c0c0c0"/>
<rect x="175" y="404" width="1" height="11" fill="#c0c0c0"/>
<rect x="179" y="404" width="1" height="15" fill="#c0c0c0"/>
<rect x="183" y="404" width="1" height="11" fill="#c0c0c0"/>
<rect x="187" y="404" width="1" height="7" fill="#c0c0c0"/>
<rect x="191" y="404" width="1" height="2" fill="#c0c0c0"/>
<rect x="195" y="404" width="1" height="3" fill="#c0c0c0"/>
<rect x="203" y="404" width="1" height="1" fill="#c0c0c0"/>
<rect x="219" y="404" width="1" height="1" fill="#c0c0c0"/>
<rect x="223" y="404" width="1" height="6" fill="#c0c0c0"/>
<rect x="227" y="404" width="1" height="13" fill="#c0c0c0"/>
<rect x="231" y="404" width="1" height="21" fill="#c0c0c0"/>
<rect x="235" y="404" width="1" height="28" fill="#c0c0c0"/>
<rect x="239" y="404" width="1" height="31" fill="#c0c0c0"/>
<rect x="243" y="404" width="1" height="34" fill="#c0c0c0"/>
<rect x="247" y="404" width="1" height="36" fill="#c0c0c0"/>
<rect x="251" y="404" width="1" height="32" fill="#c0c0c0"/>
<rect x="255" y="404" width="1" height="17" fill="#c0c0c0"/>
<rect x="259" y="404" width="1" height="11" fill="#c0c0c0"/>
<rect x="263" y="404" width="1" height="2" fill="#c0c0c0"/>
<rect x="267" y="399" width="1" height="4" fill="#c0c0c0"/>
<rect x="271" y="391" width="1" height="12" fill="#c0c0c0"/>
<rect x="275" y="379" width="1" height="24" fill="#c0c0c0"/>
<rect x="279" y="373" width="1" height="30" fill="#c0c0c0"/>
<rect x="283" y="372" width="1" height="31" fill="#c0c0c0"/>
<rect x="287" y="370" width="1" height="33" fill="#c0c0c0"/>
<rect x="291" y="366" width="1" height="37" fill="#c0c0c0"/>
<rect x="295" y="362" width="1" height="41" fill="#c0c0c0"/>
<rect x="299" y="368" width="1" height="35" fill="#c0c0c0"/>
<rect x="303" y="371" width="1" height="32" fill="#c0c0c0"/>
<rect x="307" y="375" width="1" height="28" fill="#c0c0c0"/>
<rect x="311" y="376" width="1" height="27" fill="#c0c0c0"/>
<rect x="315" y="375" width="1" height="28" fill="#c0c0c0"/>
<rect x="319" y="374" width="1" height="29" fill="#c0c0c0"/>
<rect x="323" y="373" width="1" height="30" fill="#c0c0c0"/>
<rect x="327" y="381" width="1" height="22" fill="#c0c0c0"/>
<rect x="331" y="385" width="1" height="18" fill="#c0c0c0"/>
<rect x="335" y="389" width="1" height="14" fill="#c0c0c0"/>
<rect x="339" y="393" width="1" height="10" fill="#c0c0c0"/>
<rect x="343" y="397" width="1" height="6" fill="#c0c0c0"/>
<rect x="351" y="404" width="1" height="9" fill="#c0c0c0"/>
<rect x="355" y="404" width="1" height="17" fill="#c0c0c0"/>
<rect x="359" y="404" width="1" height="23" fill="#c0c0c0"/>
<rect x="363" y="404" width="1" height="26" fill="#c0c0c0"/>
<rect x="367" y="404" width="1" height="29" fill="#c0c0c0"/>
<rect x="371" y="404" width="1" height="28" fill="#c0c0c0"/>
<rect x="375" y="404" width="1" height="30" fill="#c0c0c0"/>
<rect x="379" y="404" width="1" height="29" fill="#c0c0c0"/>
<rect x="383" y="404" width="1" height="29" fill="#c0c0c0"/>
<rect x="387" y="404" width="1" height="29" fill="#c0c0c0"/>
<rect x="391" y="404" width="1" height="26" fill="#c0c0c0"/>
<rect x="395" y="404" width="1" height="19" fill="#c0c0c0"/>
<rect x="399" y="404" width="1" height="9" fill="#c0c0c0"/>
<rect x="403" y="404" width="1" height="5" fill="#c0c0c0"/>
<rect x="407" y="404" width="1" height="1" fill="#c0c0c0"/>
<rect x="415" y="402" width="1" height="1" fill="#c0c0c0"/>
<rect x="419" y="396" width="1" height="7" fill="#c0c0c0"/>
<rect x="423" y="386" width="1" height="17" fill="#c0c0c0"/>
<rect x="427" y="375" width="1" height="28" fill="#c0c0c0"/>
<rect x="431" y="363" width="1" height="40" fill="#c0c0c0"/>
<rect x="435" y="354" width="1" height="49" fill="#c0c0c0"/>
<rect x="439" y="350" width="1" height="53" fill="#c0c0c0"/>
<rect x="443" y="346" width="1" height="57" fill="#c0c0c0"/>
<rect x="447" y="348" width="1" height="55" fill="#c0c0c0"/>
<rect x="451" y="350" width="1" height="53" fill="#c0c0c0"/>
<rect x="455" y="355" width="1" height="48" fill="#c0c0c0"/>
<rect x="459" y="357" width="1" height="46" fill="#c0c0c0"/>
<rect x="463" y="359" width="1" height="44" fill="#c0c0c0"/>
<rect x="467" y="362" width="1" height="41" fill="#c0c0c0"/>
<rect x="471" y="368" width="1" height="35" fill="#c0c0c0"/>
<rect x="475" y="377" width="1" height="26" fill="#c0c0c0"/>
<rect x="479" y="383" width="1" height="20" fill="#c0c0c0"/>
<rect x="483" y="390" width="1" height="13" fill="#c0c0c0"/>
<rect x="487" y="397" width="1" height="6" fill="#c0c0c0"/>
<rect x="491" y="404" width="1" height="9" fill="#c0c0c0"/>
<rect x="495" y="404" width="1" height="22" fill="#c0c0c0"/>
<rect x="499" y="404" width="1" height="34" fill="#c0c0c0"/>
<rect x="503" y="404" width="1" height="46" fill="#c0c0c0"/>
<rect x="507" y="404" width="1" height="54" fill="#c0c0c0"/>
<rect x="511" y="404" width="1" height="62" fill="#c0c0c0"/>
<rect x="515" y="404" width="1" height="69" fill="#c0c0c0"/>
<rect x="519" y="404" width="1" height="75" fill="#c0c0c0"/>
<rect x="523" y="404" width="1" height="79" fill="#c0c0c0"/>
<rect x="527" y="404" width="1" height="82" fill="#c0c0c0"/>
<rect x="531" y="404" width="1" height="84" fill="#c0c0c0"/>
<rect x="535" y="404" width="1" height="85" fill="#c0c0c0"/>
<rect x="539" y="404" width="1" height="83" fill="#c0c0c0"/>
<rect x="543" y="404" width="1" height="84" fill="#c0c0c0"/>
<rect x="547" y="404" width="1" height="88" fill="#c0c0c0"/>
<rect x="551" y="404" width="1" height="89" fill="#c0c0c0"/>
<rect x="555" y="404" width="1" height="89" fill="#c0c0c0"/>
<rect x="559" y="404" width="1" height="87" fill="#c0c0c0"/>
<rect x="563" y="404" width="1" height="84" fill="#c0c0c0"/>
<polyline points="3.5,419.7 8.4,425.0 15.3,430.6 25.1,430.6 32.1,425.7 37.7,418.7 44.6,409.6 51.6,402.4 58.6,395.7 64.2,391.8 72.5,389.4 79.5,388.0 83.7,385.6 92.1,383.4 100.0,382.9 105.8,383.5 111.3,386.2 118.3,390.8 125.3,395.0 132.3,398.5 137.8,399.6 146.2,399.6 151.8,397.4 157.4,396.0 162.9,396.0 167.1,398.2 171.3,398.9 176.9,402.7 182.5,406.6 186.7,408.9 192.2,410.5 196.0,410.9 203.2,410.8 210.1,408.7 217.1,406.3 222.7,406.3 228.3,407.7 233.8,411.5 240.8,417.8 247.8,424.0 253.4,427.5 260.3,427.5 265.9,424.7 271.5,419.9 275.7,412.9 281.3,401.7 286.8,392.0 291.0,386.0 295.0,380.0 299.0,375.8 302.0,373.2 305.0,371.5 309.0,370.6 313.0,370.3 318.7,370.5 323.0,371.1 327.0,372.2 332.6,375.8 339.6,380.0 346.6,384.2 352.2,390.4 357.7,397.4 363.3,405.1 368.9,412.1 374.5,418.3 380.0,423.9 385.6,428.8 389.6,430.7 398.0,430.0 404.9,425.1 411.9,419.5 420.3,410.4 425.8,403.5 431.4,394.4 437.0,385.3 442.6,375.6 448.2,367.2 453.7,359.5 459.3,355.1 464.9,353.2 470.5,353.9 476.0,358.1 481.6,363.7 484.0,367.0 491.0,377.4 498.0,390.3 505.0,409.0 512.1,427.7 519.1,445.3 526.1,460.5 533.2,472.2 540.2,480.4 547.2,485.5 554.2,489.0 563.5,489.7" fill="none" stroke="#ff0000" stroke-width="2" stroke-linejoin="round"/>
<polyline points="3.5,632.4 7.5,632.4 11.5,632.4 15.5,615.0 19.5,593.5 23.5,558.8 27.5,533.0 31.5,521.1 35.5,518.6 39.5,525.3 43.5,535.1 47.5,545.5 51.5,554.6 55.5,555.7 59.5,547.6 63.5,544.8 67.5,551.1 71.5,572.7 75.5,592.0 79.5,598.2 83.5,592.0 87.5,587.6 91.5,587.7 95.5,588.0 99.5,586.2 103.5,595.9 107.5,613.0 111.5,633.6 115.5,648.2 119.5,646.1 123.5,630.8 127.5,607.5 131.5,579.0 135.5,560.4 139.5,552.1 143.5,556.1 147.5,557.3 151.5,556.6 155.5,554.1 159.5,567.4 163.5,589.7 167.5,614.5 171.5,633.3 175.5,640.5 179.5,636.9 183.5,630.9 187.5,614.0 191.5,582.0 195.5,563.3 199.5,558.5 203.5,563.3 207.5,565.7 211.5,563.3 215.5,560.9 219.5,564.5 223.5,575.4 227.5,599.5 231.5,618.8 235.5,638.1 239.5,649.0 243.5,651.4 247.5,647.8 251.5,640.5 255.5,618.8 259.5,589.9 263.5,560.9 267.5,547.6 271.5,541.6 275.5,536.8 279.5,533.2 283.5,536.8 287.5,545.2 291.5,552.5 295.5,551.3 299.5,551.3 303.5,554.9 307.5,569.3 311.5,589.0 315.5,604.3 319.5,605.0 323.5,602.9 327.5,600.8 331.5,609.9 335.5,622.4 339.5,633.6 343.5,641.2 347.5,646.8 351.5,651.0 355.5,654.5 359.5,655.2 363.5,653.1 367.5,649.6 371.5,644.7 375.5,639.9 379.5,633.6 383.5,628.0 387.5,621.7 391.5,618.8 395.5,609.2 399.5,585.3 403.5,560.2 407.5,544.8 411.5,544.8 415.5,552.5 419.5,556.0 423.5,547.6 427.5,530.9 431.5,518.3 435.5,511.4 439.5,510.0 443.5,512.7 447.5,518.7 451.5,529.5 455.5,544.0 459.5,556.1 463.5,562.1 467.5,562.1 471.5,565.7 475.5,576.6 479.5,595.0 483.5,630.9 487.5,649.0 491.5,657.4 495.5,655.5 499.5,655.5 503.5,656.2 507.5,659.3 511.5,660.3 515.5,662.2 519.5,661.7 523.5,660.3 527.5,659.3 531.5,659.3 535.5,659.3 539.5,657.4 543.5,655.0 547.5,654.5 551.5,656.2 555.5,657.4 559.5,656.2 563.5,652.6" fill="none" stroke="#ff0000" stroke-width="1" stroke-dasharray="3 3"/>
<polyline points="3.5,636.6 7.5,631.7 11.5,624.0 15.5,600.3 19.5,556.0 23.5,526.7 27.5,514.9 31.5,518.6 35.5,522.5 39.5,533.0 43.5,548.3 47.5,557.4 51.5,559.2 55.5,549.0 59.5,532.3 63.5,550.4 67.5,570.0 71.5,607.3 75.5,604.5 79.5,589.5 83.5,582.2 87.5,587.4 91.5,590.9 95.5,583.2 99.5,585.0 103.5,606.7 107.5,634.5 111.5,653.8 115.5,647.8 119.5,634.5 123.5,609.2 127.5,582.6 131.5,551.3 135.5,549.0 139.5,552.5 143.5,565.2 147.5,552.5 151.5,554.9 155.5,554.1 159.5,581.4 163.5,616.4 167.5,647.3 171.5,640.5 175.5,634.5 179.5,633.3 183.5,611.6 187.5,582.6 191.5,550.5 195.5,554.9 199.5,565.7 203.5,571.8 207.5,559.7 211.5,561.5 215.5,556.6 219.5,585.0 223.5,595.9 227.5,623.6 231.5,640.5 235.5,655.5 239.5,651.4 243.5,647.8 247.5,641.7 251.5,630.9 255.5,585.0 259.5,554.9 263.5,541.6 267.5,544.5 271.5,535.6 275.5,527.8 279.5,534.4 283.5,546.4 287.5,555.6 291.5,555.6 295.5,544.5 299.5,552.5 303.5,562.1 307.5,593.5 311.5,604.3 315.5,614.0 319.5,597.1 323.5,598.3 327.5,609.2 331.5,623.6 335.5,635.7 339.5,640.5 343.5,645.3 347.5,651.4 351.5,652.6 355.5,659.3 359.5,653.8 363.5,650.2 367.5,645.3 371.5,636.2 375.5,638.1 379.5,626.0 383.5,623.6 387.5,614.5 391.5,621.2 395.5,593.5 399.5,551.8 403.5,534.4 407.5,544.0 411.5,553.7 415.5,560.4 419.5,552.5 423.5,530.9 427.5,512.7 431.5,508.3 435.5,508.3 439.5,513.9 443.5,514.3 447.5,527.1 451.5,541.6 455.5,560.9 459.5,566.2 463.5,560.4 467.5,560.4 471.5,570.6 475.5,599.5 479.5,633.3 483.5,659.3 487.5,655.0 491.5,657.4 495.5,655.0 499.5,656.9 503.5,657.4 507.5,662.2 511.5,662.2 515.5,662.7 519.5,661.0 523.5,659.3 527.5,657.4 531.5,660.3 535.5,658.6 539.5,653.8 543.5,652.1 547.5,653.8 551.5,660.3 555.5,657.4 559.5,649.0 563.5,641.0" fill="none" stroke="#20b2aa" stroke-width="1"/>
<line x1="2" y1="2.5" x2="680" y2="2.5" stroke="#000"/>
<line x1="2" y1="334.5" x2="680" y2="334.5" stroke="#000"/>
<line x1="679.5" y1="2" x2="679.5" y2="335" stroke="#000"/>
<line x1="2.5" y1="2" x2="2.5" y2="335" stroke="#000"/>
<line x1="2" y1="336.5" x2="680" y2="336.5" stroke="#000"/>
<line x1="2" y1="501.5" x2="680" y2="501.5" stroke="#000"/>
<line x1="679.5" y1="336" x2="679.5" y2="502" stroke="#000"/>
<line x1="2.5" y1="336" x2="2.5" y2="502" stroke="#000"/>
<line x1="2" y1="503.5" x2="680" y2="503.5" stroke="#000"/>
<line x1="2" y1="667.5" x2="680" y2="667.5" stroke="#000"/>
<line x1="679.5" y1="503" x2="679.5" y2="668" stroke="#000"/>
<line x1="2.5" y1="503" x2="2.5" y2="668" stroke="#000"/>
<line x1="680" y1="12.5" x2="682" y2="12.5" stroke="#000"/>
<line x1="680" y1="44.5" x2="682" y2="44.5" stroke="#000"/>
<line x1="680" y1="76.5" x2="682" y2="76.5" stroke="#000"/>
<line x1="680" y1="108.5" x2="682" y2="108.5" stroke="#000"/>
<line x1="680" y1="140.5" x2="682" y2="140.5" stroke="#000"/>
<line x1="680" y1="172.5" x2="682" y2="172.5" stroke="#000"/>
<line x1="680" y1="204.5" x2="682" y2="204.5" stroke="#000"/>
<line x1="680" y1="236.5" x2="682" y2="236.5" stroke="#000"/>
<line x1="680" y1="268.5" x2="682" y2="268.5" stroke="#000"/>
<line x1="680" y1="300.5" x2="682" y2="300.5" stroke="#000"/>
<line x1="680" y1="332.5" x2="682" y2="332.5" stroke="#000"/>
<line x1="680" y1="403.5" x2="682" y2="403.5" stroke="#000"/>
<line x1="680" y1="338.5" x2="681" y2="338.5" stroke="#000"/>
<line x1="680" y1="500.5" x2="681" y2="500.5" stroke="#000"/>
<line x1="680" y1="505.5" x2="681" y2="505.5" stroke="#000"/>
<line x1="680" y1="666.5" x2="681" y2="666.5" stroke="#000"/>
<line x1="3.5" y1="668" x2="3.5" y2="671" stroke="#000"/>
<line x1="67.5" y1="668" x2="67.5" y2="671" stroke="#000"/>
<line x1="131.5" y1="668" x2="131.5" y2="671" stroke="#000"/>
<line x1="195.5" y1="668" x2="195.5" y2="671" stroke="#000"/>
<line x1="259.5" y1="668" x2="259.5" y2="671" stroke="#000"/>
<line x1="323.5" y1="668" x2="323.5" y2="671" stroke="#000"/>
<line x1="387.5" y1="668" x2="387.5" y2="671" stroke="#000"/>
<line x1="451.5" y1="668" x2="451.5" y2="671" stroke="#000"/>
<line x1="515.5" y1="668" x2="515.5" y2="671" stroke="#000"/>
<clipPath id="cp"><rect x="680" y="3" width="37" height="332"/></clipPath>
<g clip-path="url(#cp)">
<text x="685" y="15" fill="#000" stroke="#000" stroke-width="0.12" textLength="33.0" lengthAdjust="spacingAndGlyphs">0.99200</text>
<text x="685" y="47" fill="#000" stroke="#000" stroke-width="0.12" textLength="33.0" lengthAdjust="spacingAndGlyphs">0.98850</text>
<text x="685" y="79" fill="#000" stroke="#000" stroke-width="0.12" textLength="33.0" lengthAdjust="spacingAndGlyphs">0.98500</text>
<text x="685" y="111" fill="#000" stroke="#000" stroke-width="0.12" textLength="33.0" lengthAdjust="spacingAndGlyphs">0.98150</text>
<text x="685" y="143" fill="#000" stroke="#000" stroke-width="0.12" textLength="33.0" lengthAdjust="spacingAndGlyphs">0.97800</text>
<text x="685" y="175" fill="#000" stroke="#000" stroke-width="0.12" textLength="33.0" lengthAdjust="spacingAndGlyphs">0.97450</text>
<text x="685" y="207" fill="#000" stroke="#000" stroke-width="0.12" textLength="33.0" lengthAdjust="spacingAndGlyphs">0.97110</text>
<text x="685" y="239" fill="#000" stroke="#000" stroke-width="0.12" textLength="33.0" lengthAdjust="spacingAndGlyphs">0.96760</text>
<text x="685" y="271" fill="#000" stroke="#000" stroke-width="0.12" textLength="33.0" lengthAdjust="spacingAndGlyphs">0.96410</text>
<text x="685" y="303" fill="#000" stroke="#000" stroke-width="0.12" textLength="33.0" lengthAdjust="spacingAndGlyphs">0.96060</text>
<text x="685" y="336" fill="#000" stroke="#000" stroke-width="0.12" textLength="33.0" lengthAdjust="spacingAndGlyphs">0.95720</text>
</g>
<rect x="681" y="300" width="36" height="11" fill="#000"/>
<text x="685" y="309" fill="#fff" stroke="#fff" stroke-width="0.12" textLength="33.0" lengthAdjust="spacingAndGlyphs">0.95999</text>
<rect x="681" y="13" width="36" height="11" fill="#008080"/>
<text x="685" y="22" fill="#fff" stroke="#fff" stroke-width="0.12" textLength="33.0" lengthAdjust="spacingAndGlyphs">0.99120</text>
<rect x="681" y="47" width="36" height="11" fill="#008080"/>
<text x="685" y="56" fill="#fff" stroke="#fff" stroke-width="0.12" textLength="33.0" lengthAdjust="spacingAndGlyphs">0.98750</text>
<rect x="681" y="79" width="36" height="11" fill="#008080"/>
<text x="685" y="88" fill="#fff" stroke="#fff" stroke-width="0.12" textLength="33.0" lengthAdjust="spacingAndGlyphs">0.98402</text>
<rect x="681" y="107" width="36" height="11" fill="#008080"/>
<text x="685" y="116" fill="#fff" stroke="#fff" stroke-width="0.12" textLength="33.0" lengthAdjust="spacingAndGlyphs">0.98100</text>
<rect x="681" y="144" width="36" height="11" fill="#008080"/>
<text x="685" y="153" fill="#fff" stroke="#fff" stroke-width="0.12" textLength="33.0" lengthAdjust="spacingAndGlyphs">0.97700</text>
<rect x="681" y="167" width="36" height="11" fill="#008080"/>
<text x="685" y="176" fill="#fff" stroke="#fff" stroke-width="0.12" textLength="33.0" lengthAdjust="spacingAndGlyphs">0.97450</text>
<rect x="681" y="185" width="36" height="11" fill="#008080"/>
<text x="685" y="194" fill="#fff" stroke="#fff" stroke-width="0.12" textLength="33.0" lengthAdjust="spacingAndGlyphs">0.97250</text>
<rect x="681" y="213" width="36" height="11" fill="#008080"/>
<text x="685" y="222" fill="#fff" stroke="#fff" stroke-width="0.12" textLength="33.0" lengthAdjust="spacingAndGlyphs">0.96950</text>
<rect x="681" y="240" width="36" height="11" fill="#008080"/>
<text x="685" y="249" fill="#fff" stroke="#fff" stroke-width="0.12" textLength="33.0" lengthAdjust="spacingAndGlyphs">0.96650</text>
<rect x="681" y="258" width="36" height="11" fill="#008080"/>
<text x="685" y="267" fill="#fff" stroke="#fff" stroke-width="0.12" textLength="33.0" lengthAdjust="spacingAndGlyphs">0.96460</text>
<rect x="681" y="291" width="36" height="11" fill="#008080"/>
<text x="685" y="300" fill="#fff" stroke="#fff" stroke-width="0.12" textLength="33.0" lengthAdjust="spacingAndGlyphs">0.96100</text>
<rect x="681" y="318" width="36" height="11" fill="#008080"/>
<text x="685" y="327" fill="#fff" stroke="#fff" stroke-width="0.12" textLength="33.0" lengthAdjust="spacingAndGlyphs">0.95800</text>
<text x="683" y="347" fill="#000" stroke="#000" stroke-width="0.12" textLength="38.0" lengthAdjust="spacingAndGlyphs">0.003929</text>
<text x="683" y="406" fill="#000" stroke="#000" stroke-width="0.12" textLength="17.9" lengthAdjust="spacingAndGlyphs">0.00</text>
<text x="683" y="498" fill="#000" stroke="#000" stroke-width="0.12" textLength="31.2" lengthAdjust="spacingAndGlyphs">-0.0058</text>
<text x="683" y="514" fill="#000" stroke="#000" stroke-width="0.12" textLength="15.1" lengthAdjust="spacingAndGlyphs">100</text>
<text x="682" y="540" fill="#000" stroke="#000" stroke-width="0.12" textLength="10.1" lengthAdjust="spacingAndGlyphs">80</text>
<text x="682" y="637" fill="#000" stroke="#000" stroke-width="0.12" textLength="10.1" lengthAdjust="spacingAndGlyphs">20</text>
<text x="683" y="664" fill="#000" stroke="#000" stroke-width="0.12" textLength="5.0" lengthAdjust="spacingAndGlyphs">0</text>
<text x="2.6" y="680" fill="#000" stroke="#000" stroke-width="0.12" textLength="45.2" lengthAdjust="spacingAndGlyphs">1 Jun 2011</text>
<text x="66.6" y="680" fill="#000" stroke="#000" stroke-width="0.12" textLength="48.2" lengthAdjust="spacingAndGlyphs">3 Jun 20:00</text>
<text x="130.6" y="680" fill="#000" stroke="#000" stroke-width="0.12" textLength="48.2" lengthAdjust="spacingAndGlyphs">8 Jun 12:00</text>
<text x="194.6" y="680" fill="#000" stroke="#000" stroke-width="0.12" textLength="53.2" lengthAdjust="spacingAndGlyphs">13 Jun 04:00</text>
<text x="258.6" y="680" fill="#000" stroke="#000" stroke-width="0.12" textLength="53.2" lengthAdjust="spacingAndGlyphs">15 Jun 20:00</text>
<text x="322.6" y="680" fill="#000" stroke="#000" stroke-width="0.12" textLength="53.2" lengthAdjust="spacingAndGlyphs">20 Jun 12:00</text>
<text x="386.6" y="680" fill="#000" stroke="#000" stroke-width="0.12" textLength="53.2" lengthAdjust="spacingAndGlyphs">23 Jun 04:00</text>
<text x="450.6" y="680" fill="#000" stroke="#000" stroke-width="0.12" textLength="53.2" lengthAdjust="spacingAndGlyphs">27 Jun 20:00</text>
<text x="514.6" y="680" fill="#000" stroke="#000" stroke-width="0.12" textLength="53.2" lengthAdjust="spacingAndGlyphs">30 Jun 12:00</text>
</svg></body></html>
